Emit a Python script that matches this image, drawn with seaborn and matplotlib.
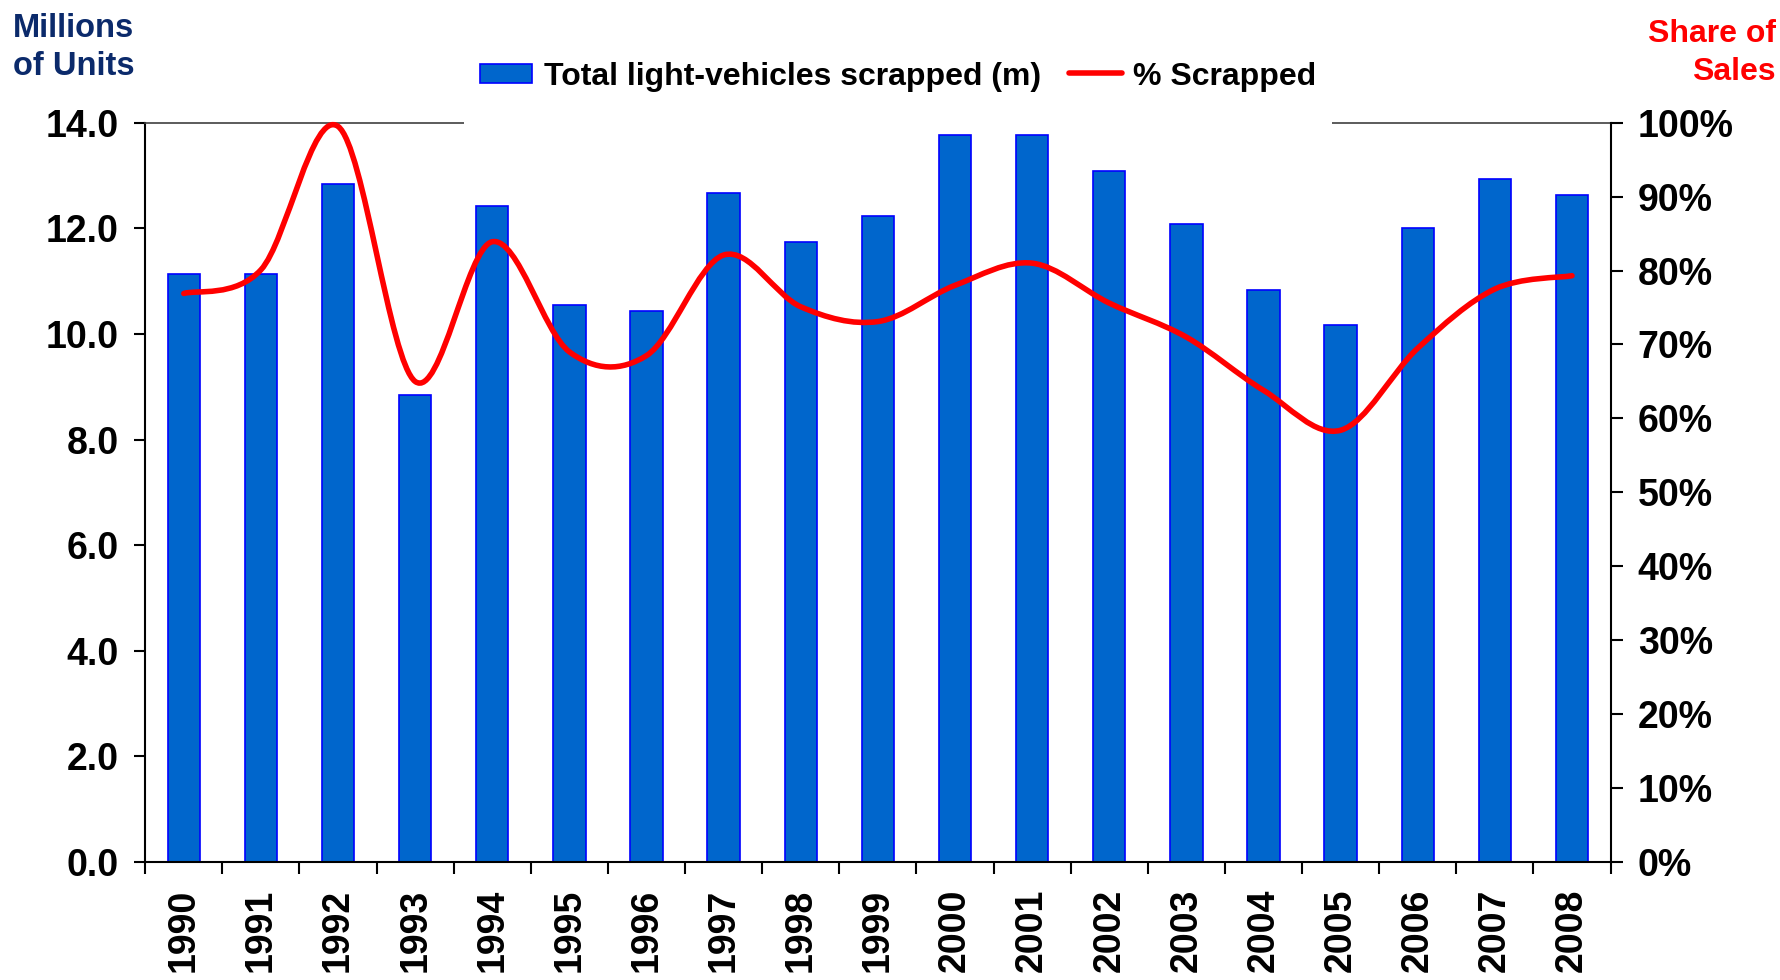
import numpy as np
import pandas as pd
import matplotlib
matplotlib.use('Agg')
import matplotlib.pyplot as plt
import seaborn as sns
from matplotlib.path import Path
from matplotlib.patches import PathPatch, Patch
from matplotlib.lines import Line2D
from matplotlib.ticker import NullFormatter
from matplotlib.legend_handler import HandlerPatch, HandlerLine2D

# data
years = [str(y) for y in range(1990, 2009)]
scrapped_m = [11.14, 11.13, 12.83, 8.85, 12.42, 10.55, 10.43, 12.67, 11.75, 12.24,
              13.76, 13.76, 13.09, 12.08, 10.84, 10.16, 12.01, 12.94, 12.64]
pct_scrapped = [76.9, 80.1, 99.5, 65.0, 83.9, 69.0, 68.5, 82.1, 75.1, 73.1,
                78.0, 81.0, 75.6, 71.0, 63.8, 58.4, 69.5, 77.5, 79.3]
left_ticks = [0, 2, 4, 6, 8, 10, 12, 14]
right_ticks = [0, 10, 20, 30, 40, 50, 60, 70, 80, 90, 100]

BAR = '#0066CC'
BAR_EDGE = '#0000FF'
RED = '#FF0000'
NAVY = '#0b2a6b'
TICK_FS = 27


# legend handles kept at text height even though the legend rows are tall
# (the tall white legend box is what breaks the top border line)
class BoxHandler(HandlerPatch):
    def adjust_drawing_area(self, legend, orig_handle, xdescent, ydescent,
                            width, height, fontsize):
        return xdescent, -0.05 * fontsize, width, 0.62 * fontsize


class LineHandler(HandlerLine2D):
    def adjust_drawing_area(self, legend, orig_handle, xdescent, ydescent,
                            width, height, fontsize):
        return xdescent, 0.0, width, 0.72 * fontsize


sns.set_theme(style='white')
plt.rcParams.update({
    'font.family': ['Liberation Sans', 'DejaVu Sans'],
    'font.weight': 'bold',
    'axes.linewidth': 1.5,
    'text.color': 'black',
    'xtick.color': 'black',
    'ytick.color': 'black',
    'axes.labelcolor': 'black',
})

fig = plt.figure(figsize=(17.8, 9.8), dpi=100)
ax = fig.add_axes([0.0816, 0.1204, 0.8232, 0.7544])

df = pd.DataFrame({'Year': years, 'Scrapped': scrapped_m})
sns.barplot(data=df, x='Year', y='Scrapped', ax=ax, color=BAR, saturation=1,
            width=0.42, edgecolor=BAR_EDGE, linewidth=1.2)

ax.set_xlim(-0.5, len(years) - 0.5)
ax.set_ylim(0, 14)
ax.set_xlabel('')
ax.set_ylabel('')

# ticks between categories, labels at category centres
ax.set_xticks(np.arange(-0.5, len(years), 1.0))
ax.xaxis.set_major_formatter(NullFormatter())
ax.set_xticks(np.arange(len(years)), minor=True)
ax.set_xticklabels(years, minor=True, rotation=90, fontsize=TICK_FS, fontweight='bold')
ax.tick_params(axis='x', which='major', direction='out', length=8.6, width=1.5,
               color='black', bottom=True)
ax.tick_params(axis='x', which='minor', length=0, pad=19, bottom=True)

ax.set_yticks(left_ticks)
ax.set_yticklabels([f'{v:.1f}' for v in left_ticks], fontsize=TICK_FS, fontweight='bold')
ax.tick_params(axis='y', direction='out', length=8, width=1.5, pad=11,
               color='black', left=True)

for side in ['left', 'bottom']:
    ax.spines[side].set_color('black')
    ax.spines[side].set_linewidth(1.5)
ax.spines['top'].set_color('#404040')
ax.spines['top'].set_linewidth(1.2)
ax.spines['right'].set_visible(False)

ax2 = ax.twinx()
ax2.set_ylim(0, 100)
ax2.set_yticks(right_ticks)
ax2.set_yticklabels([f'{v}%' for v in right_ticks], fontsize=TICK_FS, fontweight='bold')
ax2.tick_params(axis='y', direction='out', length=8.6, width=1.5, pad=11,
                color='black', right=True)
for side in ['left', 'top', 'bottom']:
    ax2.spines[side].set_visible(False)
ax2.spines['right'].set_color('black')
ax2.spines['right'].set_linewidth(1.5)
ax2.grid(False)
ax.grid(False)

# smoothed line through the yearly points (cubic bezier, Catmull-Rom handles)
xs = np.arange(len(years), dtype=float)
pts = np.column_stack([xs, np.array(pct_scrapped, dtype=float)])
verts = [tuple(pts[0])]
codes = [Path.MOVETO]
n = len(pts)
for i in range(n - 1):
    p0 = pts[max(i - 1, 0)]
    p1 = pts[i]
    p2 = pts[i + 1]
    p3 = pts[min(i + 2, n - 1)]
    c1 = p1 + (p2 - p0) / 6.0
    c2 = p2 - (p3 - p1) / 6.0
    verts += [tuple(c1), tuple(c2), tuple(p2)]
    codes += [Path.CURVE4] * 3
curve = PathPatch(Path(verts, codes), fill=False, edgecolor=RED, lw=4,
                  capstyle='round', joinstyle='round', transform=ax2.transData,
                  clip_on=False, zorder=3)
ax2.add_patch(curve)

bar_handle = Patch(facecolor=BAR, edgecolor=BAR_EDGE, linewidth=1.2)
line_handle = Line2D([], [], color=RED, lw=4)
labels = ['Total light-vehicles scrapped (m)', '% Scrapped']
leg = ax2.legend([bar_handle, line_handle], labels, loc='center',
                 bbox_to_anchor=(0.5045, 0.9228),
                 bbox_transform=fig.transFigure, ncol=2, frameon=True,
                 facecolor='white', edgecolor='none', framealpha=1, fancybox=False,
                 borderpad=0.5, handlelength=1.65, handleheight=3.0,
                 handletextpad=0.35, columnspacing=0.9,
                 handler_map={Patch: BoxHandler(), Line2D: LineHandler()},
                 prop={'weight': 'bold', 'size': 23})
leg.set_zorder(10)

fig.text(0.0075, 1 - 13 / 980, 'Millions\nof Units', color=NAVY, fontsize=23.5,
         fontweight='bold', ha='left', va='top', linespacing=1.3)
fig.text(0.9975, 1 - 19 / 980, 'Share of\nSales', color=RED, fontsize=23,
         fontweight='bold', ha='right', va='top', multialignment='right',
         linespacing=1.35)

fig.savefig('out.png', dpi=100, facecolor='white')
